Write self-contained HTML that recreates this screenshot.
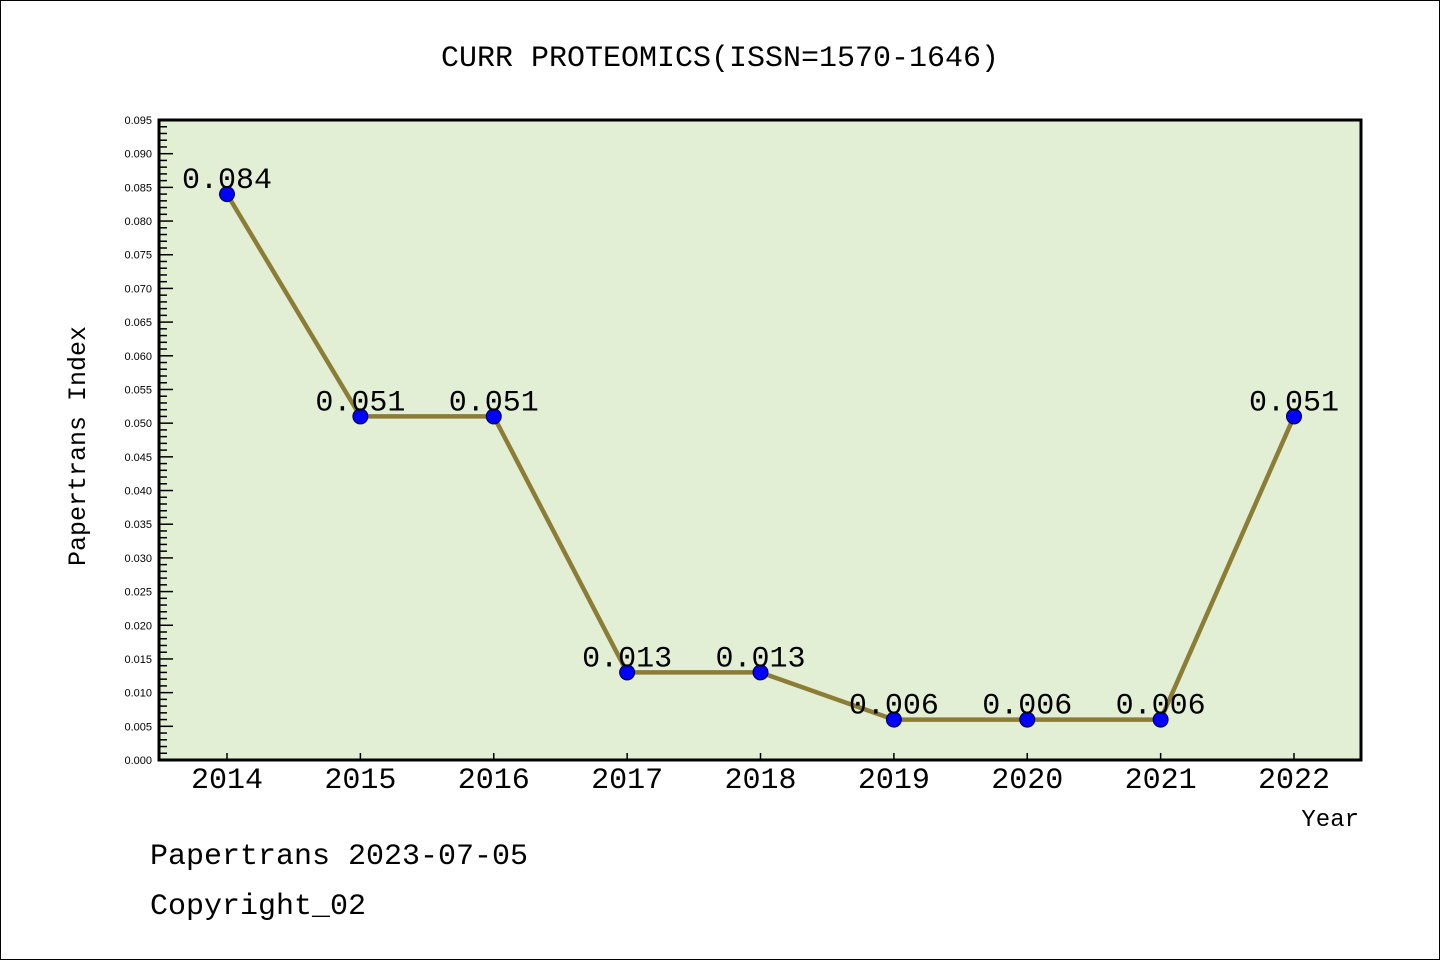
<!DOCTYPE html>
<html><head><meta charset="utf-8"><style>
html,body{margin:0;padding:0;background:#fff}
svg{display:block}
text{font-family:"Liberation Mono","WenQuanYi Zen Hei",monospace}
</style></head><body>
<svg id="chart" width="1440" height="960" xmlns="http://www.w3.org/2000/svg">
<rect x="0.5" y="0.5" width="1439" height="959" fill="#fff" stroke="#000"/>
<text x="720" y="66" font-size="30" text-anchor="middle">CURR PROTEOMICS(ISSN=1570-1646)</text>
<rect x="159" y="120" width="1202" height="640" fill="#e2efd5"/>
<g id="yaxis"></g>
<g id="xaxis"></g>
<g id="series"></g>
<rect x="159" y="120" width="1202" height="640" fill="none" stroke="#000" stroke-width="3"/>
<text transform="translate(85,446) rotate(-90)" font-size="25" text-anchor="middle">Papertrans Index</text>
<text x="1359" y="826" font-size="24" text-anchor="end">Year</text>
<text x="150" y="864" font-size="30">Papertrans 2023-07-05</text>
<text x="150" y="914" font-size="30">Copyright_02</text>
</svg>
<script>
const categories=["2014","2015","2016","2017","2018","2019","2020","2021","2022"];
const values=[0.084,0.051,0.051,0.013,0.013,0.006,0.006,0.006,0.051];
const valueLabels=["0.084","0.051","0.051","0.013","0.013","0.006","0.006","0.006","0.051"];
const yTickLabels=["0.000","0.005","0.010","0.015","0.020","0.025","0.030","0.035","0.040","0.045","0.050","0.055","0.060","0.065","0.070","0.075","0.080","0.085","0.090","0.095"];
const NS="http://www.w3.org/2000/svg";
const L=159,R=1361,T=120,B=760,YMAX=0.095;
const y=v=>B-(v/YMAX)*(B-T);
const x=i=>227+i*(1294-227)/(categories.length-1);
function mk(t,a,p){const e=document.createElementNS(NS,t);for(const k in a)e.setAttribute(k,a[k]);p.appendChild(e);return e;}
const ya=document.getElementById('yaxis'),xa=document.getElementById('xaxis'),sg=document.getElementById('series');
for(let m=0;m<=95;m++){const yy=y(m/1000);const major=m%5===0;
 const ln=mk('line',{x1:L,x2:L+(major?14:8),y1:yy,y2:yy,stroke:'#000','stroke-width':1.5},ya);
 
 }
yTickLabels.forEach((s,i)=>{const t=mk('text',{x:152,y:y(parseFloat(s))+4,'font-size':11,'text-anchor':'end',style:'font-family:"Liberation Sans",sans-serif'},ya);t.textContent=s;
 
 });
categories.forEach((c,i)=>{const ln=mk('line',{x1:x(i),x2:x(i),y1:B,y2:B-7,stroke:'#000','stroke-width':1.5},xa);
 
 
 const t=mk('text',{x:x(i),y:788,'font-size':30,'text-anchor':'middle'},xa);t.textContent=c;
 
 });
const pl=mk('polyline',{points:values.map((v,i)=>x(i)+','+y(v)).join(' '),fill:'none',stroke:'#8b7d35','stroke-width':4.5},sg);


values.forEach((v,i)=>{const c=mk('circle',{cx:x(i),cy:y(v),r:7.5,fill:'#0000ff',stroke:'#000033','stroke-width':1},sg);
 
 
 const t=mk('text',{x:x(i),y:y(v)-6,'font-size':30,'text-anchor':'middle'},sg);t.textContent=valueLabels[i];
 
 });
</script>
</body></html>
